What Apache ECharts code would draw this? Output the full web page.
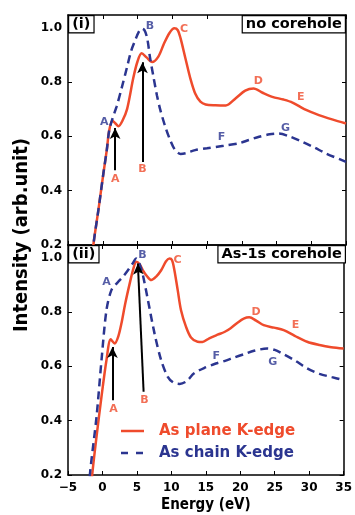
<!DOCTYPE html>
<html>
<head>
<meta charset="utf-8">
<script src="https://cdn.jsdelivr.net/npm/echarts@6/dist/echarts.min.js"></script>
<style>
  html, body { margin: 0; padding: 0; background: #fff; }
  #chart { width: 355px; height: 515px; }
</style>
</head>
<body>
<div id="chart"></div>
<script>
// panel (i): no corehole
const planeTopX = [-1.8, -1.35, -0.63, 0.09, 0.58, 0.92, 1.39, 1.8, 2.26, 2.8, 3.5, 4.4, 5.0, 5.6, 6.3, 7.1, 8.0, 8.8, 9.6, 10.3, 10.8, 11.2, 11.9, 12.6, 13.3, 14.05, 14.8, 16.2, 17.7, 19.1, 20.5, 21.7, 23.0, 24.4, 26.0, 27.3, 29.0, 31.1, 33.0, 35];
const planeTopY = [0.07, 0.2, 0.328, 0.463, 0.549, 0.62, 0.657, 0.648, 0.637, 0.655, 0.70, 0.815, 0.875, 0.905, 0.89, 0.873, 0.893, 0.94, 0.98, 0.997, 0.99, 0.96, 0.886, 0.813, 0.757, 0.727, 0.717, 0.714, 0.713, 0.739, 0.768, 0.776, 0.76, 0.745, 0.735, 0.724, 0.70, 0.678, 0.662, 0.647];
const chainTopX = [-1.8, -1.35, -0.63, 0.09, 0.58, 0.92, 1.4, 2.0, 2.7, 3.5, 4.1, 4.7, 5.2, 5.6, 6.0, 6.4, 6.8, 7.3, 7.8, 8.3, 9.0, 9.7, 10.4, 11.2, 12.0, 13.3, 15.0, 17.4, 19.6, 21.0, 22.5, 24.0, 25.3, 26.8, 28.7, 30.5, 32.1, 35];
const chainTopY = [0.07, 0.2, 0.328, 0.463, 0.549, 0.62, 0.665, 0.71, 0.775, 0.855, 0.915, 0.955, 0.985, 0.996, 0.99, 0.96, 0.89, 0.818, 0.75, 0.695, 0.635, 0.586, 0.55, 0.535, 0.538, 0.549, 0.556, 0.565, 0.574, 0.586, 0.598, 0.607, 0.61, 0.60, 0.58, 0.558, 0.537, 0.506];

// panel (ii): As-1s corehole
const planeBotX = [-1.9, -1.49, -0.86, -0.14, 0.58, 1.2, 1.78, 2.3, 2.75, 3.3, 3.95, 4.5, 4.91, 5.4, 5.87, 6.5, 7.08, 7.8, 8.52, 9.2, 9.72, 10.1, 10.44, 10.92, 11.4, 12.13, 12.85, 13.8, 14.5, 15.5, 16.7, 17.7, 18.6, 19.6, 20.5, 21.3, 22.3, 23.4, 24.9, 26.3, 27.9, 29.7, 31.5, 33.2, 35];
const planeBotY = [0.07, 0.2, 0.341, 0.488, 0.622, 0.699, 0.684, 0.71, 0.757, 0.83, 0.904, 0.96, 0.984, 0.975, 0.953, 0.93, 0.917, 0.93, 0.953, 0.985, 0.996, 0.99, 0.953, 0.88, 0.806, 0.745, 0.706, 0.69, 0.689, 0.703, 0.716, 0.726, 0.74, 0.76, 0.775, 0.78, 0.768, 0.751, 0.742, 0.733, 0.712, 0.69, 0.678, 0.67, 0.665];
const chainBotX = [-2.2, -1.83, -0.86, -0.14, 0.58, 1.3, 2.26, 3.0, 3.7, 4.3, 4.91, 5.4, 5.87, 6.6, 7.56, 8.52, 9.48, 10.3, 11.2, 12.2, 13.3, 14.8, 16.45, 17.8, 19.1, 20.6, 22.0, 23.9, 25.0, 26.3, 28.0, 29.7, 31.5, 33.3, 35];
const chainBotY = [0.05, 0.2, 0.414, 0.622, 0.806, 0.88, 0.91, 0.93, 0.953, 0.975, 0.996, 0.975, 0.935, 0.843, 0.72, 0.622, 0.561, 0.54, 0.535, 0.545, 0.574, 0.594, 0.61, 0.62, 0.632, 0.645, 0.657, 0.665, 0.66, 0.644, 0.62, 0.592, 0.572, 0.56, 0.549];

// peak letters [x, y, letter]
const planeTopLabels = [[1.8, 0.443, 'A'], [5.7, 0.48, 'B'], [11.7, 0.995, 'C'], [22.4, 0.804, 'D'], [28.5, 0.745, 'E']];
const chainTopLabels = [[0.2, 0.652, 'A'], [6.8, 1.005, 'B'], [17.1, 0.597, 'F'], [26.3, 0.63, 'G']];
const planeBotLabels = [[1.6, 0.443, 'A'], [6.1, 0.475, 'B'], [10.9, 0.99, 'C'], [22.3, 0.80, 'D'], [28.0, 0.75, 'E']];
const chainBotLabels = [[0.6, 0.909, 'A'], [5.8, 1.01, 'B'], [16.5, 0.637, 'F'], [24.7, 0.615, 'G']];

// arrows [x0, y0, x1, y1]
const arrowsTop = [[1.78, 0.475, 1.78, 0.63], [5.72, 0.505, 5.72, 0.872]];
const arrowsBot = [[1.45, 0.475, 1.45, 0.671], [5.97, 0.506, 5.14, 0.978]];

const legendNames = ['As plane K-edge', 'As chain K-edge'];

const xTicks = { min: -5, max: 35, interval: 5 };
const yTicks = { min: 0.2, max: 1.046, interval: 0.2 };

const RED = '#ef4b2c';
const BLUE = '#2b3590';
const FONT = 'DejaVu Sans';

const zip = (xs, ys) => xs.map((x, i) => [x, ys[i]]);

function xAxis(grid, pos, labels) {
  return {
    type: 'value', gridIndex: grid, position: pos, ...xTicks,
    axisLine: { show: true, onZero: false, lineStyle: { color: '#000', width: 1.5 } },
    axisTick: { show: true, inside: true, length: 4, lineStyle: { color: '#000', width: 1 } },
    axisLabel: {
      show: labels, color: '#000', fontFamily: FONT, fontWeight: 'bold', fontSize: 12, margin: 7,
      formatter: (v) => String(v).replace('-', '\u2212')
    },
    splitLine: { show: false }
  };
}

function yAxis(grid, pos, labels) {
  return {
    type: 'value', gridIndex: grid, position: pos, ...yTicks,
    axisLine: { show: true, onZero: false, lineStyle: { color: '#000', width: 1.5 } },
    axisTick: { show: true, inside: true, length: 4, lineStyle: { color: '#000', width: 1 } },
    axisLabel: {
      show: labels, showMaxLabel: false, color: '#000', fontFamily: FONT, fontWeight: 'bold', fontSize: 12, margin: 6,
      formatter: (v) => v.toFixed(1)
    },
    splitLine: { show: false }
  };
}

function curve(name, grid, xs, ys, color, dashed, arrows) {
  const s = {
    name, type: 'line', xAxisIndex: grid * 2, yAxisIndex: grid * 2,
    data: zip(xs, ys), smooth: 0.3, symbol: 'none', showSymbol: false,
    color, lineStyle: { color, width: 2.5, type: dashed ? [8, 5] : 'solid' },
    z: dashed ? 3 : 2
  };
  if (arrows) {
    s.markLine = {
      silent: true, symbol: ['none', 'arrow'], symbolSize: [8, 11],
      label: { show: false },
      lineStyle: { color: '#000', width: 2, type: 'solid' },
      data: arrows.map((a) => [{ coord: [a[0], a[1]] }, { coord: [a[2], a[3]] }])
    };
  }
  return s;
}

function letters(grid, items, color) {
  return {
    name: '_lbl', type: 'scatter', xAxisIndex: grid * 2, yAxisIndex: grid * 2,
    symbolSize: 1, itemStyle: { color: 'rgba(0,0,0,0)' }, silent: true, z: 5,
    data: items.map((d) => ({ value: [d[0], d[1]], name: d[2] })),
    label: {
      show: true, position: 'inside', formatter: '{b}', color,
      fontFamily: FONT, fontWeight: 'bold', fontSize: 11
    }
  };
}

function box(text, pos) {
  return {
    type: 'text', ...pos, z: 10,
    style: {
      text, fill: '#000', font: 'bold 14.5px "DejaVu Sans"',
      backgroundColor: '#fff', borderColor: '#000', borderWidth: 1.2, padding: [1, 3, 0, 3]
    }
  };
}

function legendRow(i, color, dash) {
  const y = 431 + i * 22;
  return [
    {
      type: 'line', z: 10,
      shape: { x1: 121, y1: y, x2: 144, y2: y },
      style: { stroke: color, lineWidth: 2.5, lineDash: dash }
    },
    {
      type: 'text', x: 159, y, z: 10,
      style: {
        text: legendNames[i], fill: color, verticalAlign: 'middle',
        font: 'bold 15px "DejaVu Sans"'
      }
    }
  ];
}

const chart = echarts.init(document.getElementById('chart'));
chart.setOption({
  animation: false,
  backgroundColor: '#fff',
  grid: [
    { left: 68, top: 15, width: 278, height: 230 },
    { left: 68, top: 245, width: 278, height: 230 }
  ],
  xAxis: [
    xAxis(0, 'bottom', false), xAxis(0, 'top', false),
    Object.assign(xAxis(1, 'bottom', true), {
      name: 'Energy (eV)', nameLocation: 'middle', nameGap: 23,
      nameTextStyle: { color: '#000', fontFamily: 'DejaVu Sans Condensed', fontWeight: 'bold', fontSize: 15 }
    }),
    xAxis(1, 'top', false)
  ],
  yAxis: [
    yAxis(0, 'left', true), yAxis(0, 'right', false),
    yAxis(1, 'left', true), yAxis(1, 'right', false)
  ],
  graphic: [
    box('(i)', { left: 68, top: 15 }),
    box('no corehole', { right: 9, top: 15 }),
    box('(ii)', { left: 68, top: 245 }),
    box('As-1s corehole', { right: 9, top: 245 }),
    ...legendRow(0, RED, null),
    ...legendRow(1, BLUE, [7, 8]),
    {
      type: 'text', x: 22, y: 235, rotation: Math.PI / 2,
      style: {
        text: 'Intensity (arb.unit)', fill: '#000', align: 'center', verticalAlign: 'middle',
        font: 'bold 20px "DejaVu Sans Condensed"'
      }
    }
  ],
  series: [
    curve('As plane K-edge', 0, planeTopX, planeTopY, RED, false, arrowsTop),
    curve('As chain K-edge', 0, chainTopX, chainTopY, BLUE, true),
    curve('As plane K-edge', 1, planeBotX, planeBotY, RED, false, arrowsBot),
    curve('As chain K-edge', 1, chainBotX, chainBotY, BLUE, true),
    letters(0, planeTopLabels, RED),
    letters(0, chainTopLabels, BLUE),
    letters(1, planeBotLabels, RED),
    letters(1, chainBotLabels, BLUE)
  ]
});
</script>
</body>
</html>
